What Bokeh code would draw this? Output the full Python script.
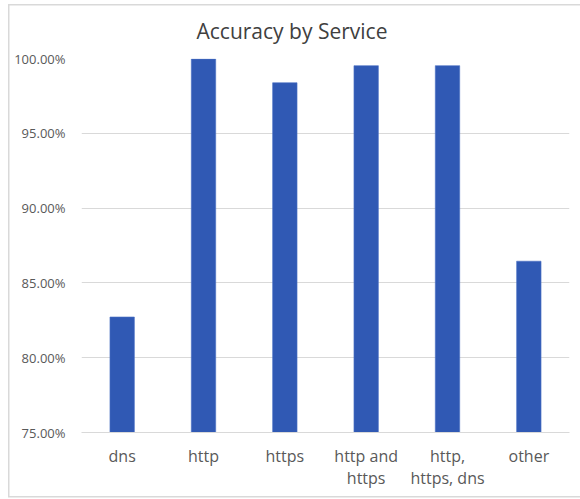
from bokeh.plotting import figure
from bokeh.models import (FactorRange, Range1d, NumeralTickFormatter, FixedTicker,
                          CategoricalAxis, CustomJSTickFormatter)
from bokeh.embed import file_html
from bokeh.resources import INLINE

# Accuracy per service category
services = ["dns", "http", "https", "http and https", "http, https, dns", "other"]
accuracy = [0.8272, 0.9996, 0.9838, 0.9952, 0.9952, 0.8645]
# Two-line category labels: first line and second line
label_line1 = {"http and https": "http and", "http, https, dns": "http,"}
label_line2 = {"http and https": "https", "http, https, dns": "https, dns"}
y_ticks = [0.75, 0.80, 0.85, 0.90, 0.95, 1.00]

FONT = "Open Sans"
TEXT_GRAY = "#595959"
GRID = "#d9d9d9"
BAR = "#3059b4"

p = figure(
    x_range=FactorRange(*services, range_padding=0),
    y_range=Range1d(0.75, 1.0),
    frame_width=488, frame_height=374,
    output_backend="svg", toolbar_location=None,
    min_border_left=81, min_border_right=11, min_border_top=58, min_border_bottom=67,
    title="Accuracy by Service",
)
p.outline_line_color = None
p.background_fill_color = "white"
p.border_fill_color = None

# Thin light frame around the chart box, drawn on the page behind the canvas
p.styles = {
    "background-color": "white",
    "background-image": ", ".join(["linear-gradient(#d9d9d9, #d9d9d9)"] * 3),
    "background-position": "8px 4px, 8px 4px, 8px 496px",
    "background-size": "1.5px 493px, 580px 1.5px, 580px 1.5px",
    "background-repeat": "no-repeat",
}

p.title.align = "left"
p.title.offset = 115
p.title.text_font = FONT
p.title.text_font_size = "21px"
p.title.text_font_style = "normal"
p.title.text_color = "#404040"
p.title.standoff = 28

p.vbar(x=services, top=accuracy, bottom=0.75, width=0.3,
       fill_color=BAR, line_color="#4a70c4", line_width=0.6)

# Y axis: percentage ticks, no axis line
p.yaxis.ticker = FixedTicker(ticks=y_ticks)
p.yaxis.formatter = NumeralTickFormatter(format="0.00%")
p.yaxis.axis_line_color = None
p.yaxis.major_tick_line_color = None
p.yaxis.minor_tick_line_color = None
p.yaxis.major_label_text_font = FONT
p.yaxis.major_label_text_font_size = "13px"
p.yaxis.major_label_text_color = TEXT_GRAY
p.yaxis.major_label_standoff = 10

# X axis: category labels (first line)
xa = p.xaxis[0]
xa.axis_line_color = GRID
xa.major_tick_line_color = None
xa.minor_tick_line_color = None
xa.formatter = CustomJSTickFormatter(args=dict(lines=label_line1),
                                     code="return tick in lines ? lines[tick] : tick;")
xa.major_label_text_font = FONT
xa.major_label_text_font_size = "16px"
xa.major_label_text_color = TEXT_GRAY
xa.major_label_standoff = 6

# Second line of the category labels
xa2 = CategoricalAxis(axis_line_color=None, major_tick_line_color=None,
                      minor_tick_line_color=None,
                      formatter=CustomJSTickFormatter(args=dict(lines=label_line2),
                                                      code="return tick in lines ? lines[tick] : '';"),
                      major_label_text_font=FONT, major_label_text_font_size="16px",
                      major_label_text_color=TEXT_GRAY, major_label_standoff=-9)
p.add_layout(xa2, "below")

p.xgrid.grid_line_color = None
p.ygrid.grid_line_color = GRID
p.ygrid.grid_line_width = 1

open("out.html", "w").write(file_html(p, INLINE))
